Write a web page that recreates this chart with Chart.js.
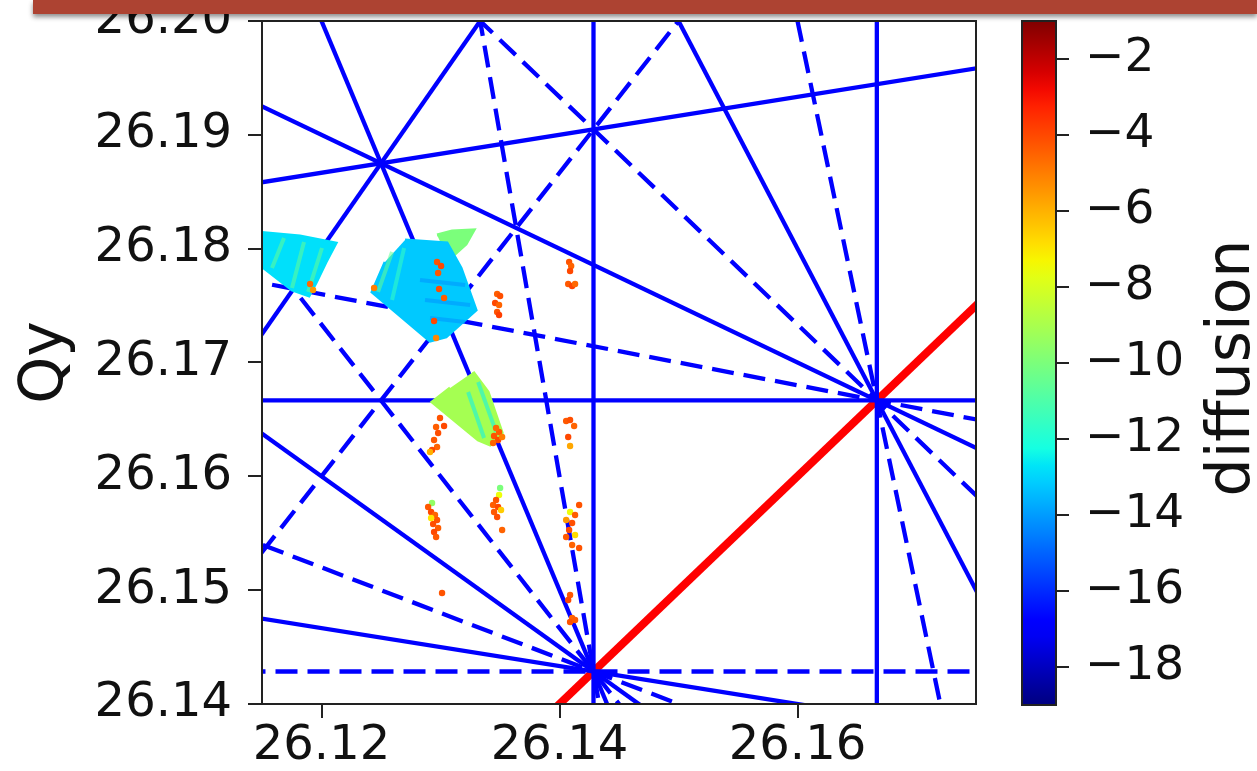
<!DOCTYPE html>
<html>
<head>
<meta charset="utf-8">
<title>Tune diagram</title>
<script src="https://cdn.jsdelivr.net/npm/chart.js@4.4.1/dist/chart.umd.min.js"></script>
<style>
  html, body { margin: 0; padding: 0; background: #fff; overflow: hidden; }
  #wrap { position: relative; width: 1257px; height: 771px; }
  #tune { position: absolute; left: 0; top: 0; }
  #cbar { position: absolute; left: 990px; top: 0; }
  .banner {
    position: absolute; left: 33px; top: 0; width: 1224px; height: 14px;
    background: #ad4332; box-shadow: 0 3px 5px rgba(0, 0, 0, 0.45); z-index: 2;
  }
</style>
</head>
<body>
<div id="wrap">
  <canvas id="tune" width="1257" height="771"></canvas>
  <canvas id="cbar" width="267" height="771"></canvas>
  <div class="banner"></div>
</div>
<script>
// axes
const qxRange = [26.115, 26.175];
const qyRange = [26.14, 26.20];
const qxTicks = [26.12, 26.14, 26.16];
const qyTicks = [26.14, 26.15, 26.16, 26.17, 26.18, 26.19, 26.20];
const diffRange = [-19, -1];
const diffTicks = [-18, -16, -14, -12, -10, -8, -6, -4, -2];

// resonance lines a*Qx + b*Qy = c
const solidRes = [
  [1, 0, 26.142857],
  [1, 0, 26.166667],
  [0, 1, 26.166667],
  [-1, 6, 131],
  [5, 2, 183],
  [3, -2, 26],
  [1, 2, 78.5],
  [1, 6, 183],
  [3, 4, 183],
  [2, 1, 78.5]
];
const dashedRes = [
  [0, 1, 26.142857],
  [1, 1, 52.333333],
  [4, -3, 26],
  [6, 1, 183],
  [2, 5, 183],
  [4, 3, 183],
  [1, 5, 157],
  [5, 1, 157]
];
const couplingRes = [1, -1, 0];

// dense particle footprints (outline + diffusion level)
const patchQx = [
  [26.1145, 26.11819, 26.12122, 26.12038, 26.11954, 26.11895, 26.11752, 26.1145],
  [26.12702, 26.13055, 26.13173, 26.13299, 26.13047, 26.12912, 26.12425, 26.12534],
  [26.12971, 26.13097, 26.13282, 26.13215, 26.13122, 26.13030],
  [26.13274, 26.13400, 26.13518, 26.13417, 26.13316, 26.12929, 26.13081]
];
const patchQy = [
  [26.18147, 26.18111, 26.18050, 26.17883, 26.17699, 26.17584, 26.17637, 26.17883],
  [26.18076, 26.18050, 26.17830, 26.17461, 26.17224, 26.17189, 26.17619, 26.17883],
  [26.18120, 26.18155, 26.18164, 26.18041, 26.17953, 26.17988],
  [26.16917, 26.16741, 26.16381, 26.16275, 26.16319, 26.16653, 26.16776]
];
const patchDiff = [-12.8, -13.2, -10, -9.1];

// streaks inside the footprints
const stripeQx = [
  [26.11685, 26.11584], [26.11853, 26.11752], [26.12004, 26.11887],
  [26.12593, 26.12475], [26.12694, 26.12593],
  [26.12828, 26.13207], [26.12870, 26.13249], [26.12912, 26.13207],
  [26.13316, 26.13467], [26.13232, 26.13366]
];
const stripeQy = [
  [26.18094, 26.17830], [26.18059, 26.17655], [26.18006, 26.17620],
  [26.17971, 26.17620], [26.18006, 26.17549],
  [26.17725, 26.17681], [26.17549, 26.17505], [26.17391, 26.17356],
  [26.16829, 26.16390], [26.16741, 26.16337]
];
const stripeDiff = [-10.5, -10.5, -10.5, -10.5, -11.5, -14.2, -14.2, -14.2, -12.5, -12.5];

// isolated particles
const pointQx = [
  26.14081, 26.14098, 26.14089, 26.14073, 26.14106, 26.14131,
  26.13476, 26.13501, 26.13459, 26.13492, 26.13476, 26.13492,
  26.11904, 26.11929,
  26.12971, 26.13005, 26.12980, 26.12988, 26.13030, 26.12946, 26.12963, 26.12442,
  26.13450, 26.13484, 26.13442, 26.13492, 26.13467, 26.13518,
  26.12996, 26.13030, 26.12963, 26.12980, 26.12946, 26.12971, 26.12929, 26.12912,
  26.14056, 26.14089, 26.14123, 26.14073, 26.14089,
  26.12929, 26.12896, 26.12921, 26.12954, 26.12971, 26.12938, 26.12980, 26.12946, 26.12963, 26.12921,
  26.13501, 26.13492, 26.13467, 26.13442, 26.13484, 26.13509, 26.13450, 26.13476, 26.13518,
  26.14165, 26.14089, 26.14131, 26.14056, 26.14106, 26.14081, 26.14131, 26.14056, 26.14106, 26.14165,
  26.14089, 26.14073, 26.14106, 26.14089, 26.14131,
  26.13013
];
const pointQy = [
  26.17883, 26.17848, 26.17804, 26.17690, 26.17672, 26.17690,
  26.17602, 26.17584, 26.17523, 26.17505, 26.17444, 26.17417,
  26.17690, 26.17637,
  26.17883, 26.17848, 26.17786, 26.17646, 26.17567, 26.17365, 26.17215, 26.17655,
  26.16354, 26.16319, 26.16293, 26.16390, 26.16425, 26.16346,
  26.16513, 26.16442, 26.16433, 26.16381, 26.16319, 26.16258, 26.16231, 26.16214,
  26.16486, 26.16495, 26.16442, 26.16346, 26.16267,
  26.15766, 26.15731, 26.15687, 26.15660, 26.15616, 26.15581, 26.15546, 26.15511, 26.15467, 26.15634,
  26.15898, 26.15836, 26.15792, 26.15748, 26.15731, 26.15704, 26.15687, 26.15643, 26.15529,
  26.15748, 26.15687, 26.15660, 26.15616, 26.15590, 26.15529, 26.15485, 26.15467, 26.15397, 26.15370,
  26.14958, 26.14914, 26.14756, 26.14720, 26.14738,
  26.14975
];
const pointDiff = [
  -4.2, -4.5, -4.0, -4.3, -3.9, -4.6,
  -4.4, -4.1, -4.0, -4.5, -4.2, -3.8,
  -4.6, -5.5,
  -4.2, -4.0, -4.3, -4.1, -4.4, -4.0, -5.2, -5.0,
  -4.2, -4.0, -4.5, -4.3, -4.6, -5.0,
  -4.2, -4.0, -4.4, -4.1, -4.3, -4.5, -4.0, -6.0,
  -4.3, -4.1, -4.5, -4.0, -5.8,
  -9.5, -4.3, -4.0, -4.5, -4.2, -4.1, -4.4, -4.0, -4.3, -7.0,
  -10.0, -7.5, -4.2, -4.4, -4.0, -6.5, -4.3, -4.1, -4.5,
  -4.2, -7.5, -4.4, -5.5, -4.1, -4.0, -6.8, -4.3, -4.5, -4.2,
  -4.3, -4.0, -4.5, -4.2, -4.4,
  -4.2
];

// matplotlib "jet"
const jetR = [[0, 0], [0.35, 0], [0.66, 1], [0.89, 1], [1, 0.5]];
const jetG = [[0, 0], [0.125, 0], [0.375, 1], [0.64, 1], [0.91, 0], [1, 0]];
const jetB = [[0, 0.5], [0.11, 1], [0.34, 1], [0.65, 0], [1, 0]];

function interp(seg, t) {
  for (let i = 1; i < seg.length; i++) {
    if (t <= seg[i][0]) {
      const [t0, v0] = seg[i - 1];
      const [t1, v1] = seg[i];
      return v0 + (v1 - v0) * (t - t0) / (t1 - t0);
    }
  }
  return seg[seg.length - 1][1];
}
function jetT(t, alpha = 1) {
  const c = s => Math.round(255 * interp(s, t));
  return `rgba(${c(jetR)},${c(jetG)},${c(jetB)},${alpha})`;
}
function jet(d, alpha = 1) {
  const t = (d - diffRange[0]) / (diffRange[1] - diffRange[0]);
  return jetT(Math.min(1, Math.max(0, t)), alpha);
}

// two far-apart points on a*Qx + b*Qy = c, the chart area clips the rest
function resSegment([a, b, c]) {
  if (b === 0) return [{ x: c / a, y: 26.10 }, { x: c / a, y: 26.24 }];
  return [26.10, 26.19].map(x => ({ x, y: (c - a * x) / b }));
}

Chart.defaults.font.family = '"DejaVu Sans", sans-serif';
Chart.defaults.color = '#111';

const frame = {
  id: 'frame',
  afterDatasetsDraw(chart) {
    const { ctx, chartArea: a } = chart;
    ctx.save();
    ctx.strokeStyle = '#222';
    ctx.lineWidth = 2;
    ctx.strokeRect(a.left, a.top, a.right - a.left, a.bottom - a.top);
    ctx.restore();
  }
};

const datasets = [];

datasets.push({
  type: 'scatter',
  data: pointQx.map((x, i) => ({ x, y: pointQy[i] })),
  backgroundColor: pointDiff.map(d => jet(d)),
  borderWidth: 0,
  pointRadius: 3.2,
  order: 0,
  clip: 0
});

stripeQx.forEach((xs, k) => datasets.push({
  type: 'line',
  data: xs.map((x, i) => ({ x, y: stripeQy[k][i] })),
  borderColor: jet(stripeDiff[k], 0.55),
  borderWidth: 4,
  pointRadius: 0,
  fill: false,
  order: 1,
  clip: 0
}));

patchQx.forEach((xs, k) => datasets.push({
  type: 'line',
  data: xs.map((x, i) => ({ x, y: patchQy[k][i] })),
  backgroundColor: jet(patchDiff[k]),
  borderColor: jet(patchDiff[k]),
  borderWidth: 3,
  pointRadius: 0,
  fill: 'shape',
  order: 2,
  clip: 0
}));

solidRes.forEach(r => datasets.push({
  type: 'line',
  data: resSegment(r),
  borderColor: '#0000ff',
  borderWidth: 4.3,
  pointRadius: 0,
  fill: false,
  order: 3,
  clip: 0
}));

dashedRes.forEach(r => datasets.push({
  type: 'line',
  data: resSegment(r),
  borderColor: '#0000ff',
  borderWidth: 4.3,
  borderDash: [22, 10],
  pointRadius: 0,
  fill: false,
  order: 3,
  clip: 0
}));

datasets.push({
  type: 'line',
  data: resSegment(couplingRes),
  borderColor: '#ff0000',
  borderWidth: 8,
  pointRadius: 0,
  fill: false,
  order: 4,
  clip: 0
});

const tickFont = { family: '"DejaVu Sans", sans-serif', size: 48 };

new Chart(document.getElementById('tune'), {
  type: 'scatter',
  data: { datasets },
  options: {
    responsive: false,
    animation: false,
    events: [],
    layout: { padding: { left: 0, top: 21, right: 281, bottom: 0 } },
    plugins: { legend: { display: false }, tooltip: { enabled: false } },
    scales: {
      x: {
        type: 'linear',
        min: qxRange[0],
        max: qxRange[1],
        afterBuildTicks: s => { s.ticks = qxTicks.map(value => ({ value })); },
        afterFit: s => { s.height = 67; s.paddingLeft = 0; s.paddingRight = 0; },
        ticks: { callback: v => v.toFixed(2), font: tickFont, padding: 0, maxRotation: 0, autoSkip: false },
        grid: { drawOnChartArea: false, drawTicks: true, tickLength: 14, color: '#222', lineWidth: 2 },
        border: { display: false }
      },
      y: {
        type: 'linear',
        min: qyRange[0],
        max: qyRange[1],
        afterBuildTicks: s => { s.ticks = qyTicks.map(value => ({ value })); },
        afterFit: s => { s.width = 262; s.paddingTop = 0; s.paddingBottom = 0; },
        ticks: { callback: v => v.toFixed(2), font: tickFont, padding: 16, autoSkip: false },
        grid: { drawOnChartArea: false, drawTicks: true, tickLength: 14, color: '#222', lineWidth: 2 },
        border: { display: false },
        title: {
          display: true,
          text: 'Qy',
          font: { family: '"DejaVu Sans", sans-serif', size: 60 },
          padding: { top: 10, bottom: 0 }
        }
      }
    }
  },
  plugins: [frame]
});

// colour bar
const diffusionLabel = {
  id: 'diffusionLabel',
  afterDraw(chart) {
    const { ctx, chartArea: a } = chart;
    ctx.save();
    ctx.translate(chart.width - 8, (a.top + a.bottom) / 2 + 5);
    ctx.rotate(-Math.PI / 2);
    ctx.font = '60px "DejaVu Sans", sans-serif';
    ctx.fillStyle = '#111';
    ctx.textAlign = 'center';
    ctx.textBaseline = 'alphabetic';
    ctx.fillText('diffusion', 0, 0);
    ctx.restore();
  }
};

new Chart(document.getElementById('cbar'), {
  type: 'bar',
  data: {
    labels: ['diffusion'],
    datasets: [{
      data: [diffRange],
      backgroundColor: ctx => {
        const a = ctx.chart.chartArea;
        if (!a) return 'transparent';
        const g = ctx.chart.ctx.createLinearGradient(0, a.bottom, 0, a.top);
        for (let i = 0; i <= 40; i++) g.addColorStop(i / 40, jetT(i / 40));
        return g;
      },
      borderWidth: 0,
      barPercentage: 1,
      categoryPercentage: 1
    }]
  },
  options: {
    responsive: false,
    animation: false,
    events: [],
    layout: { padding: { left: 32, top: 21, right: 0, bottom: 66 } },
    plugins: { legend: { display: false }, tooltip: { enabled: false } },
    scales: {
      x: { display: false },
      y: {
        position: 'right',
        min: diffRange[0],
        max: diffRange[1],
        afterBuildTicks: s => { s.ticks = diffTicks.map(value => ({ value })); },
        afterFit: s => { s.width = 201; s.paddingTop = 0; s.paddingBottom = 0; },
        ticks: { callback: v => '\u2212' + Math.abs(v), font: { family: '"DejaVu Sans", sans-serif', size: 47 }, padding: 16, autoSkip: false },
        grid: { drawOnChartArea: false, drawTicks: true, tickLength: 13, color: '#222', lineWidth: 2 },
        border: { display: false }
      }
    }
  },
  plugins: [frame, diffusionLabel]
});
</script>
</body>
</html>
